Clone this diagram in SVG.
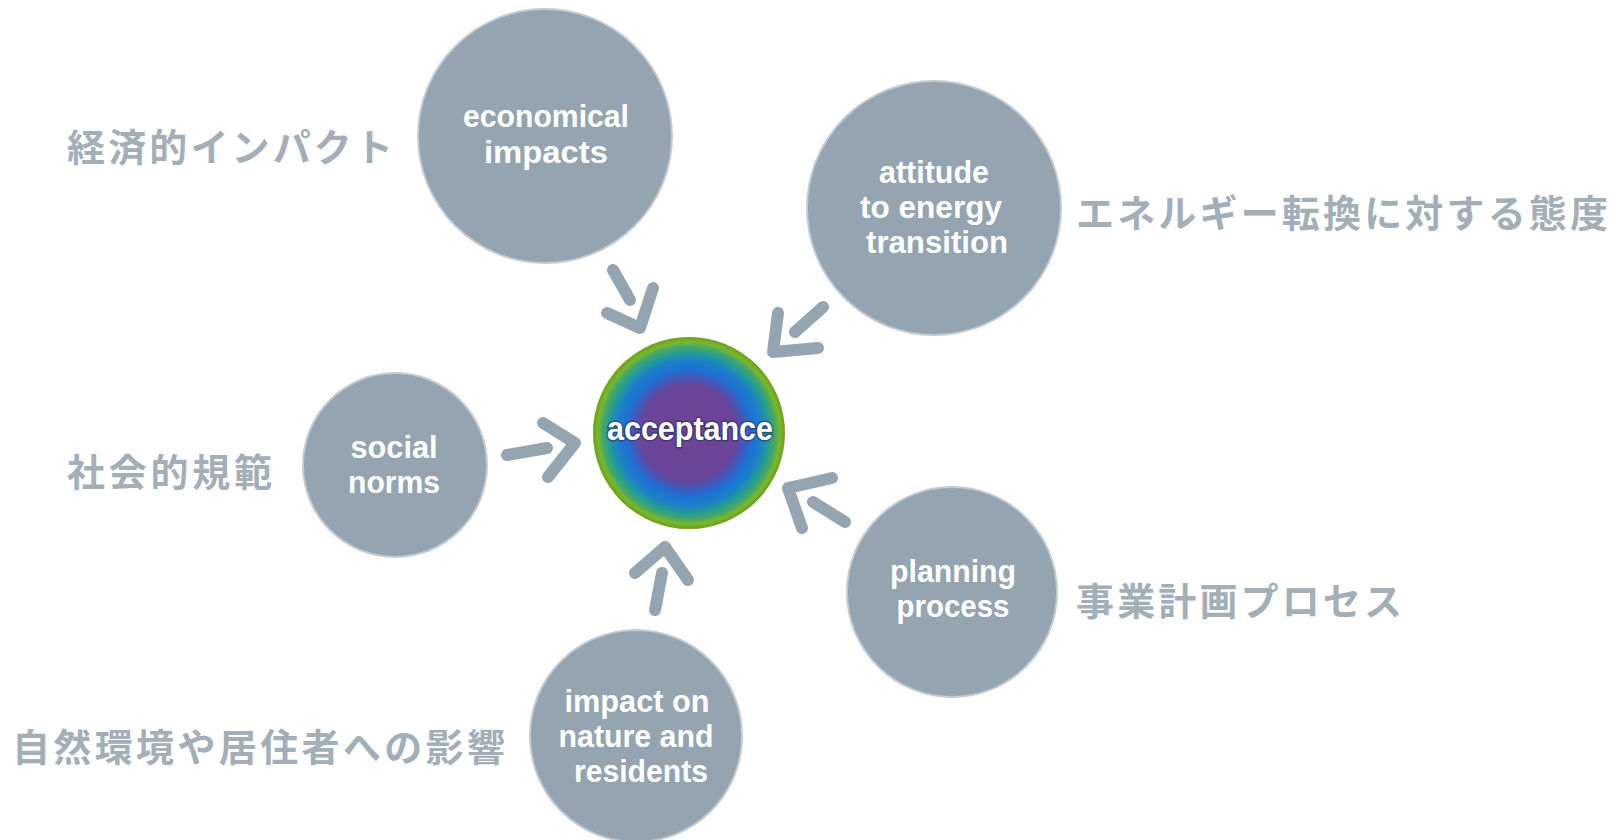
<svg xmlns="http://www.w3.org/2000/svg" width="1621" height="840" viewBox="0 0 1621 840">
  <defs>
    <style>
      .node { fill: #94a4b0; stroke: #c3ccd3; stroke-width: 2; }
      .ntxt { font-family: "Liberation Sans", Arial, sans-serif; font-weight: bold; font-size: 32px; fill: #ffffff; text-anchor: middle; }
      .jp { font-family: "Noto Sans CJK JP", "Noto Sans", sans-serif; font-weight: bold; font-size: 38px; fill: #a3afb8; }
      .arrow { fill: none; stroke: #94a4b0; stroke-width: 12; stroke-linecap: round; stroke-linejoin: round; }
      .acc { font-family: "Liberation Sans", Arial, sans-serif; font-weight: bold; font-size: 33px; fill: #ffffff; text-anchor: middle; stroke: #27305a; stroke-width: 3; stroke-opacity: 0.6; paint-order: stroke; }
    </style>
    <radialGradient id="accGrad" cx="0.5" cy="0.5" r="0.5">
      <stop offset="0" stop-color="#6e4494"/>
      <stop offset="0.5" stop-color="#6a459a"/>
      <stop offset="0.6" stop-color="#3a5ec2"/>
      <stop offset="0.67" stop-color="#1c73d4"/>
      <stop offset="0.76" stop-color="#1d80c8"/>
      <stop offset="0.83" stop-color="#239a98"/>
      <stop offset="0.9" stop-color="#45a866"/>
      <stop offset="0.95" stop-color="#7db62c"/>
      <stop offset="1" stop-color="#6a9e1c"/>
    </radialGradient>
  </defs>

  <rect x="0" y="0" width="1621" height="840" fill="#ffffff"/>

  <!-- connectors: arrows pointing into the central circle -->
  <g id="connectors">
    <g id="arrow-economical">
      <path class="arrow" d="M613 270 L630 300"/>
      <path class="arrow" d="M607 313 L640 328 L653 288"/>
    </g>
    <g id="arrow-attitude">
      <path class="arrow" d="M823 307 L795 332"/>
      <path class="arrow" d="M778 313 L773 352 L818 348"/>
    </g>
    <g id="arrow-social">
      <path class="arrow" d="M507 455 L547 448"/>
      <path class="arrow" d="M543 423 L575 443 L548 477"/>
    </g>
    <g id="arrow-impact">
      <path class="arrow" d="M655 610 L662 573"/>
      <path class="arrow" d="M635 573 L665 547 L688 580"/>
    </g>
    <g id="arrow-planning">
      <path class="arrow" d="M813 502 L845 522"/>
      <path class="arrow" d="M832 478 L788 488 L802 528"/>
    </g>
  </g>

  <!-- central node -->
  <g id="acceptance">
    <circle cx="689" cy="433" r="96" fill="url(#accGrad)"/>
    <text class="acc" x="690" y="440" textLength="166" lengthAdjust="spacingAndGlyphs">acceptance</text>
  </g>

  <g id="economical-impacts">
    <circle class="node" cx="545" cy="136" r="127"/>
    <text class="ntxt" x="546" y="127" textLength="166" lengthAdjust="spacingAndGlyphs">economical</text>
    <text class="ntxt" x="546" y="163" textLength="124" lengthAdjust="spacingAndGlyphs">impacts</text>
  </g>

  <g id="attitude-energy-transition">
    <circle class="node" cx="934" cy="208" r="127"/>
    <text class="ntxt" x="934" y="183" textLength="110" lengthAdjust="spacingAndGlyphs">attitude</text>
    <text class="ntxt" x="931" y="218" textLength="142" lengthAdjust="spacingAndGlyphs">to energy</text>
    <text class="ntxt" x="937" y="253" textLength="142" lengthAdjust="spacingAndGlyphs">transition</text>
  </g>

  <g id="social-norms">
    <circle class="node" cx="395" cy="465" r="92"/>
    <text class="ntxt" x="394" y="458" textLength="87" lengthAdjust="spacingAndGlyphs">social</text>
    <text class="ntxt" x="394" y="493" textLength="92" lengthAdjust="spacingAndGlyphs">norms</text>
  </g>

  <g id="planning-process">
    <circle class="node" cx="952" cy="592" r="105"/>
    <text class="ntxt" x="953" y="582" textLength="126" lengthAdjust="spacingAndGlyphs">planning</text>
    <text class="ntxt" x="953" y="617" textLength="113" lengthAdjust="spacingAndGlyphs">process</text>
  </g>

  <g id="impact-nature-residents">
    <circle class="node" cx="636" cy="736" r="106"/>
    <text class="ntxt" x="637" y="712" textLength="145" lengthAdjust="spacingAndGlyphs">impact on</text>
    <text class="ntxt" x="636" y="747" textLength="155" lengthAdjust="spacingAndGlyphs">nature and</text>
    <text class="ntxt" x="641" y="782" textLength="134" lengthAdjust="spacingAndGlyphs">residents</text>
  </g>

  <!-- Japanese captions -->
  <g id="labels-ja">
    <text class="jp" x="67" y="161" textLength="326">経済的インパクト</text>
    <text class="jp" x="1076" y="227" textLength="532">エネルギー転換に対する態度</text>
    <text class="jp" x="67" y="486" textLength="205">社会的規範</text>
    <text class="jp" x="1076" y="615" textLength="326">事業計画プロセス</text>
    <text class="jp" x="12" y="761" textLength="493">自然環境や居住者への影響</text>
  </g>
</svg>
